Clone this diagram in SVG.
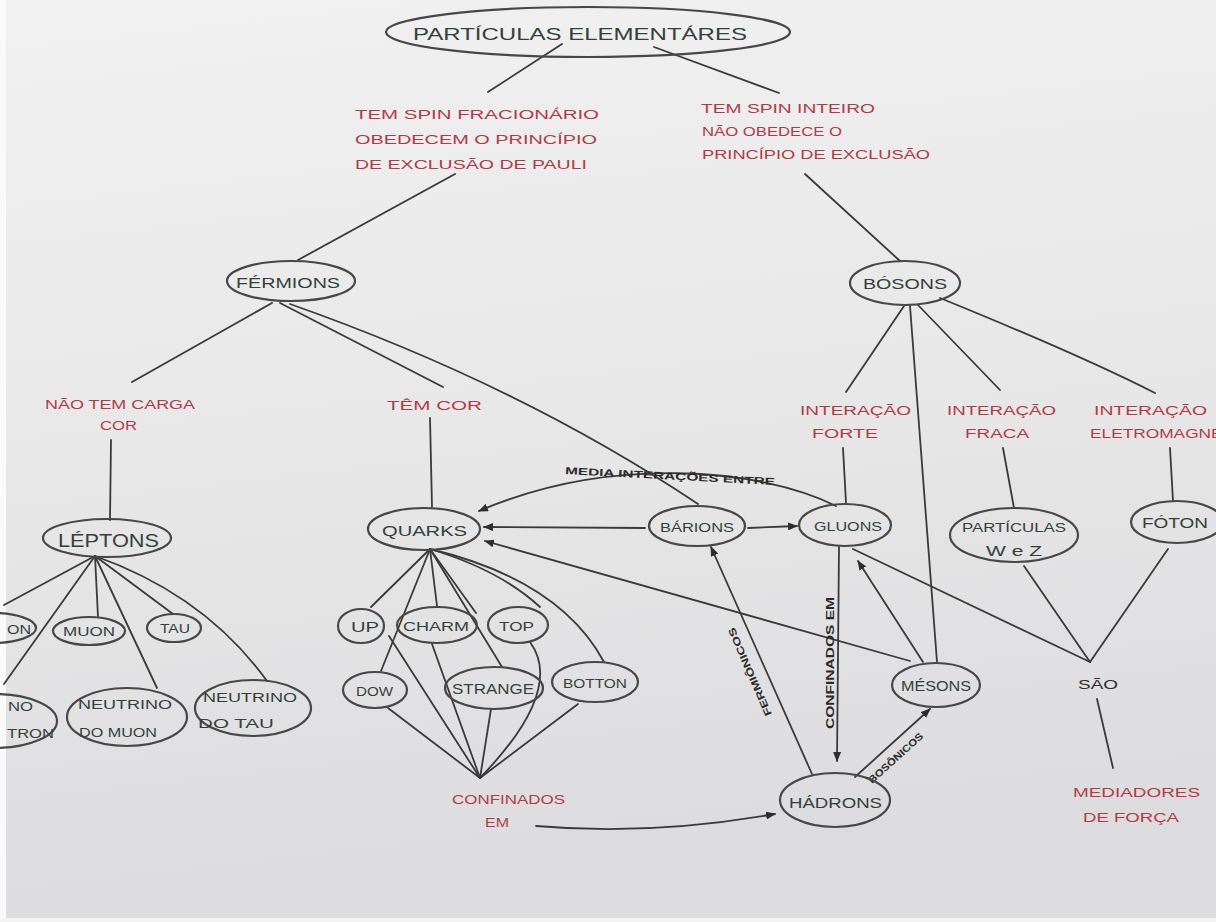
<svg xmlns="http://www.w3.org/2000/svg" width="1216" height="922" viewBox="0 0 1216 922">
  <defs>
    <linearGradient id="paper" x1="0" y1="0" x2="0.15" y2="1">
      <stop offset="0" stop-color="#f1f1f1"/>
      <stop offset="0.5" stop-color="#e8e8e9"/>
      <stop offset="1" stop-color="#dcdcde"/>
    </linearGradient>
    <marker id="arrow" viewBox="0 0 10 8" refX="9" refY="4" markerWidth="10" markerHeight="8" markerUnits="userSpaceOnUse" orient="auto">
      <path d="M0,0 L10,4 L0,8 z" fill="#2e2e2e"/>
    </marker>
    <style>
      .node ellipse { fill: none; stroke: #474747; stroke-width: 2.2; }
      .nt { font-family: "Liberation Sans", Arial, sans-serif; font-size: 14px; fill: #33413a; text-anchor: start; }
      .lbl { font-family: "Liberation Sans", Arial, sans-serif; font-size: 12.5px; fill: #b23a46; }
      .el { font-family: "Liberation Sans", Arial, sans-serif; font-size: 10px; font-weight: bold; fill: #2a2a2a; }
      #connectors path { fill: none; stroke: #3a3a3a; stroke-width: 1.8; stroke-linecap: round; }
      #connectors path.arr { marker-end: url(#arrow); }
    </style>
  </defs>

  <!-- paper -->
  <rect x="0" y="0" width="1216" height="922" fill="url(#paper)"/>
  <rect x="0" y="0" width="6" height="922" fill="#fafafa"/>
  <rect x="0" y="918" width="1216" height="4" fill="#f4f4f4"/>

  <g id="connectors">
    <path d="M562 44 L488 92"/>
    <path d="M654 47 L779 93"/>
    <path d="M455 174 L298 260"/>
    <path d="M805 174 L900 261"/>
    <path d="M272 303 L132 382"/>
    <path d="M280 303 L443 387"/>
    <path d="M290 304 Q520 385 698 504"/>
    <path d="M111 440 L110 520"/>
    <path d="M430 418 L432 507"/>
    <!-- léptons -->
    <path d="M95 556 L4 605"/>
    <path d="M95 556 L4 684"/>
    <path d="M95 556 L98 617"/>
    <path d="M95 556 L157 688"/>
    <path d="M95 556 L173 614"/>
    <path d="M95 556 Q205 595 267 681"/>
    <!-- quarks -->
    <path d="M430 549 L371 607"/>
    <path d="M430 549 L381 671"/>
    <path d="M430 549 L437 606"/>
    <path d="M430 549 L502 667"/>
    <path d="M430 549 L476 613"/>
    <path d="M430 549 Q500 570 540 607"/>
    <path d="M430 549 Q560 580 604 662"/>
    <!-- confinados em -->
    <path d="M388 708 L480 778"/>
    <path d="M389 636 L480 778"/>
    <path d="M432 644 L480 778"/>
    <path d="M491 709 L480 778"/>
    <path d="M530 642 Q565 690 480 778"/>
    <path d="M578 704 L480 778"/>
    <path class="arr" d="M536 826 Q650 836 775 814"/>
    <!-- bósons -->
    <path d="M904 306 L846 392"/>
    <path d="M910 306 L937 662"/>
    <path d="M918 305 L1000 390"/>
    <path d="M940 298 Q1080 355 1155 393"/>
    <path d="M843 448 L846 503"/>
    <path d="M1003 448 L1014 508"/>
    <path d="M1170 448 L1173 501"/>
    <!-- hádrons / quarks / gluons -->
    <path class="arr" d="M645 528 L484 527"/>
    <path class="arr" d="M748 528 L797 526"/>
    <path class="arr" d="M836 506 C760 468 610 455 479 511"/>
    <path class="arr" d="M910 661 L485 541"/>
    <path class="arr" d="M923 662 L858 561"/>
    <path d="M853 549 L1090 662"/>
    <path d="M1024 566 L1090 662"/>
    <path d="M1168 549 L1090 662"/>
    <path d="M1097 699 L1113 768"/>
    <path class="arr" d="M839 547 L837 761"/>
    <path class="arr" d="M812 774 L711 547"/>
    <path class="arr" d="M855 777 L930 709"/>

    <text class="el" x="565" y="474" textLength="210" lengthAdjust="spacingAndGlyphs" transform="rotate(3 565 474)">MEDIA INTERAÇÕES ENTRE</text>
    <text class="el" transform="translate(834 729) rotate(-90)" textLength="132" lengthAdjust="spacingAndGlyphs">CONFINADOS EM</text>
    <text class="el" transform="translate(772 714) rotate(-113.5)" textLength="95" lengthAdjust="spacingAndGlyphs">FERMIÔNICOS</text>
    <text class="el" transform="translate(872 784) rotate(-42)" textLength="70" lengthAdjust="spacingAndGlyphs">BOSÔNICOS</text>
  </g>

  <!-- linking phrases -->
  <g id="lbl-fermions" class="lbl">
    <text x="355" y="119" textLength="244" lengthAdjust="spacingAndGlyphs">TEM SPIN FRACIONÁRIO</text>
    <text x="355" y="144" textLength="242" lengthAdjust="spacingAndGlyphs">OBEDECEM O PRINCÍPIO</text>
    <text x="355" y="169" textLength="232" lengthAdjust="spacingAndGlyphs">DE EXCLUSÃO DE PAULI</text>
  </g>
  <g id="lbl-bosons" class="lbl">
    <text x="701" y="113" textLength="174" lengthAdjust="spacingAndGlyphs">TEM SPIN INTEIRO</text>
    <text x="702" y="136" textLength="140" lengthAdjust="spacingAndGlyphs">NÃO OBEDECE O</text>
    <text x="702" y="159" textLength="228" lengthAdjust="spacingAndGlyphs">PRINCÍPIO DE EXCLUSÃO</text>
  </g>
  <g id="lbl-sem-cor" class="lbl">
    <text x="45" y="409" textLength="150" lengthAdjust="spacingAndGlyphs">NÃO TEM CARGA</text>
    <text x="100" y="430" textLength="37" lengthAdjust="spacingAndGlyphs">COR</text>
  </g>
  <g id="lbl-com-cor" class="lbl">
    <text x="387" y="410" textLength="95" lengthAdjust="spacingAndGlyphs">TÊM COR</text>
  </g>
  <g id="lbl-forte" class="lbl">
    <text x="800" y="415" textLength="111" lengthAdjust="spacingAndGlyphs">INTERAÇÃO</text>
    <text x="812" y="438" textLength="66" lengthAdjust="spacingAndGlyphs">FORTE</text>
  </g>
  <g id="lbl-fraca" class="lbl">
    <text x="947" y="415" textLength="109" lengthAdjust="spacingAndGlyphs">INTERAÇÃO</text>
    <text x="965" y="438" textLength="64" lengthAdjust="spacingAndGlyphs">FRACA</text>
  </g>
  <g id="lbl-eletro" class="lbl">
    <text x="1094" y="415" textLength="113" lengthAdjust="spacingAndGlyphs">INTERAÇÃO</text>
    <text x="1090" y="438" textLength="172" lengthAdjust="spacingAndGlyphs">ELETROMAGNÉTICA</text>
  </g>
  <g id="lbl-confinados" class="lbl">
    <text x="452" y="804" textLength="113" lengthAdjust="spacingAndGlyphs">CONFINADOS</text>
    <text x="485" y="827" textLength="24" lengthAdjust="spacingAndGlyphs">EM</text>
  </g>
  <g id="lbl-sao">
    <text x="1078" y="689" textLength="40" lengthAdjust="spacingAndGlyphs" style="font-family:'Liberation Sans',Arial,sans-serif;font-size:13px;fill:#2e2e2e">SÃO</text>
  </g>
  <g id="lbl-mediadores" class="lbl">
    <text x="1073" y="797" textLength="127" lengthAdjust="spacingAndGlyphs">MEDIADORES</text>
    <text x="1083" y="822" textLength="96" lengthAdjust="spacingAndGlyphs">DE FORÇA</text>
  </g>

  <!-- concepts -->
  <g id="particulas-elementares" class="node">
    <ellipse cx="588" cy="32" rx="202" ry="25"/>
    <text class="nt" x="413" y="40" textLength="334" lengthAdjust="spacingAndGlyphs" style="font-size:17px">PARTÍCULAS ELEMENTÁRES</text>
  </g>
  <g id="fermions" class="node">
    <ellipse cx="291" cy="281" rx="64" ry="20"/>
    <text class="nt" x="236" y="288" textLength="104" lengthAdjust="spacingAndGlyphs">FÉRMIONS</text>
  </g>
  <g id="bosons" class="node">
    <ellipse cx="905" cy="283" rx="55" ry="22"/>
    <text class="nt" x="863" y="289" textLength="84" lengthAdjust="spacingAndGlyphs">BÓSONS</text>
  </g>
  <g id="leptons" class="node">
    <ellipse cx="107" cy="538" rx="64" ry="19"/>
    <text class="nt" x="58" y="547" textLength="101" lengthAdjust="spacingAndGlyphs" style="font-size:18px">LÉPTONS</text>
  </g>
  <g id="quarks" class="node">
    <ellipse cx="424" cy="529" rx="56" ry="21"/>
    <text class="nt" x="382" y="536" textLength="85" lengthAdjust="spacingAndGlyphs">QUARKS</text>
  </g>
  <g id="barions" class="node">
    <ellipse cx="697" cy="526" rx="48" ry="20"/>
    <text class="nt" x="660" y="532" textLength="74" lengthAdjust="spacingAndGlyphs" style="font-size:13px">BÁRIONS</text>
  </g>
  <g id="gluons" class="node">
    <ellipse cx="845" cy="525" rx="46" ry="21"/>
    <text class="nt" x="814" y="531" textLength="68" lengthAdjust="spacingAndGlyphs" style="font-size:13px">GLUONS</text>
  </g>
  <g id="particulas-wz" class="node">
    <ellipse cx="1014" cy="535" rx="64" ry="27"/>
    <text class="nt" x="962" y="532" textLength="104" lengthAdjust="spacingAndGlyphs" style="font-size:12px">PARTÍCULAS</text>
    <text class="nt" x="986" y="556" textLength="56" lengthAdjust="spacingAndGlyphs">W e Z</text>
  </g>
  <g id="foton" class="node">
    <ellipse cx="1177" cy="522" rx="46" ry="21"/>
    <text class="nt" x="1142" y="528" textLength="66" lengthAdjust="spacingAndGlyphs">FÓTON</text>
  </g>
  <!-- leftmost lepton nodes run off the sheet; only their tails are shown -->
  <g id="eletron" class="node">
    <ellipse cx="-8" cy="628" rx="44" ry="15"/>
    <text class="nt" x="7" y="634" textLength="24" lengthAdjust="spacingAndGlyphs" style="font-size:12px">ON</text>
  </g>
  <g id="muon" class="node">
    <ellipse cx="89" cy="631" rx="36" ry="14"/>
    <text class="nt" x="63" y="636" textLength="52" lengthAdjust="spacingAndGlyphs" style="font-size:12px">MUON</text>
  </g>
  <g id="tau" class="node">
    <ellipse cx="174" cy="628" rx="27" ry="14"/>
    <text class="nt" x="160" y="633" textLength="30" lengthAdjust="spacingAndGlyphs" style="font-size:12px">TAU</text>
  </g>
  <g id="neutrino-eletron" class="node">
    <ellipse cx="-5" cy="721" rx="62" ry="27"/>
    <text class="nt" x="8" y="711" textLength="25" lengthAdjust="spacingAndGlyphs" style="font-size:12px">NO</text>
    <text class="nt" x="7" y="738" textLength="47" lengthAdjust="spacingAndGlyphs" style="font-size:12px">TRON</text>
  </g>
  <g id="neutrino-muon" class="node">
    <ellipse cx="127" cy="717" rx="60" ry="29"/>
    <text class="nt" x="78" y="709" textLength="94" lengthAdjust="spacingAndGlyphs" style="font-size:12px">NEUTRINO</text>
    <text class="nt" x="79" y="737" textLength="78" lengthAdjust="spacingAndGlyphs" style="font-size:12px">DO MUON</text>
  </g>
  <g id="neutrino-tau" class="node">
    <ellipse cx="253" cy="708" rx="58" ry="28"/>
    <text class="nt" x="203" y="702" textLength="94" lengthAdjust="spacingAndGlyphs" style="font-size:12px">NEUTRINO</text>
    <text class="nt" x="198" y="728" textLength="76" lengthAdjust="spacingAndGlyphs" style="font-size:12px">DO TAU</text>
  </g>
  <g id="up" class="node">
    <ellipse cx="361" cy="626" rx="23" ry="17"/>
    <text class="nt" x="351" y="632" textLength="28" lengthAdjust="spacingAndGlyphs" style="font-size:15px">UP</text>
  </g>
  <g id="charm" class="node">
    <ellipse cx="437" cy="625" rx="40" ry="18"/>
    <text class="nt" x="403" y="631" textLength="66" lengthAdjust="spacingAndGlyphs" style="font-size:13px">CHARM</text>
  </g>
  <g id="top" class="node">
    <ellipse cx="518" cy="625" rx="30" ry="18"/>
    <text class="nt" x="499" y="631" textLength="35" lengthAdjust="spacingAndGlyphs" style="font-size:13px">TOP</text>
  </g>
  <g id="dow" class="node">
    <ellipse cx="375" cy="690" rx="32" ry="18"/>
    <text class="nt" x="356" y="696" textLength="37" lengthAdjust="spacingAndGlyphs" style="font-size:13px">DOW</text>
  </g>
  <g id="strange" class="node">
    <ellipse cx="494" cy="688" rx="49" ry="21"/>
    <text class="nt" x="452" y="694" textLength="82" lengthAdjust="spacingAndGlyphs" style="font-size:14px">STRANGE</text>
  </g>
  <g id="botton" class="node">
    <ellipse cx="595" cy="682" rx="43" ry="20"/>
    <text class="nt" x="563" y="688" textLength="64" lengthAdjust="spacingAndGlyphs" style="font-size:13px">BOTTON</text>
  </g>
  <g id="hadrons" class="node">
    <ellipse cx="835" cy="800" rx="55" ry="27"/>
    <text class="nt" x="789" y="808" textLength="93" lengthAdjust="spacingAndGlyphs" style="font-size:15px">HÁDRONS</text>
  </g>
  <g id="mesons" class="node">
    <ellipse cx="936" cy="685" rx="44" ry="22"/>
    <text class="nt" x="901" y="691" textLength="70" lengthAdjust="spacingAndGlyphs">MÉSONS</text>
  </g>
</svg>
